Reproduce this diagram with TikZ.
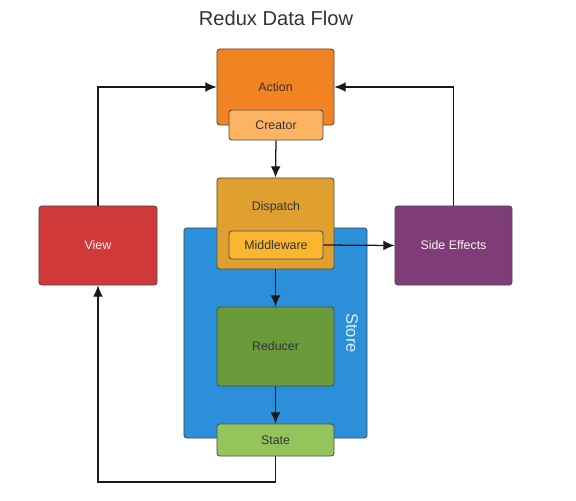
\documentclass[tikz,border=0pt]{standalone}
\usepackage{fontspec}
\setmainfont{Liberation Sans}
\usepackage{xcolor}
\usetikzlibrary{arrows.meta,positioning,calc}

\definecolor{actionorange}{HTML}{F28322}
\definecolor{creatororange}{HTML}{FDB462}
\definecolor{dispatchgold}{HTML}{DFA030}
\definecolor{middlegold}{HTML}{FBB630}
\definecolor{storeblue}{HTML}{2B90D9}
\definecolor{reducergreen}{HTML}{6A9B3B}
\definecolor{stategreen}{HTML}{93C55C}
\definecolor{viewred}{HTML}{D0393A}
\definecolor{sidepurple}{HTML}{7E3D76}

\begin{document}
\begin{tikzpicture}[x=0.025cm, y=-0.025cm, every node/.style={align=center}]
\tikzset{
  box/.style={draw=black!70, rounded corners=2pt, line width=0.6pt, text=black!80,
    minimum width=2.925cm, font=\fontsize{8.8}{10}\selectfont},
  subbox/.style={box, minimum width=2.35cm},
  lightbox/.style={box, text=white!80!pink},
  flow/.style={draw=black!90, line width=0.9pt, -{Latex[length=8pt,width=7pt]}}
}
\useasboundingbox (0,0) rectangle (576,500);
\node[font=\fontsize{14.3}{16}\selectfont, text=black!80] (title) at (276,18) {Redux Data Flow};
% store behind everything
\node[box, fill=storeblue, minimum width=4.575cm, minimum height=5.25cm] (store) at (275.5,333) {};
\node[text=white!85!storeblue, font=\fontsize{11.8}{13}\selectfont, rotate=-90] (storetxt) at (352,333) {Store};
% action creator
\node[box, fill=actionorange, minimum height=1.9cm] (action) at (275.5,87) {Action};
\node[subbox, fill=creatororange, minimum height=0.75cm] (creator) at (276,125) {Creator};
% dispatch + middleware
\node[box, fill=dispatchgold, minimum height=2.275cm] (dispatch) at (275.5,223.5) {};
\node[font=\fontsize{8.8}{10}\selectfont, text=black!80] (dispatchtxt) at (276,207) {Dispatch};
\node[subbox, fill=middlegold, minimum height=0.7cm] (middleware) at (276,245) {Middleware};
% reducer and state
\node[box, fill=reducergreen, minimum height=1.975cm] (reducer) at (275.5,346.5) {Reducer};
\node[box, fill=stategreen, minimum height=0.8cm] (state) at (275.5,440) {State};
% side boxes
\node[lightbox, fill=viewred, minimum width=2.95cm, minimum height=1.975cm] (view) at (98,245.5) {View};
\node[lightbox, fill=sidepurple, minimum height=1.975cm] (side) at (453.5,245.5) {Side Effects};
\coordinate (loop) at (275.5,482);
% connectors
\draw[flow] (creator.south) -- (dispatch.north);
\draw[flow] (middleware.east) -- (side.west);
\draw[flow] (dispatch.south) -- (reducer.north);
\draw[flow] (reducer.south) -- (state.north);
\draw[flow] (side.north) |- (action.east);
\draw[flow] (view.north) |- (action.west);
\draw[flow] (state.south) -- (loop) -| (view.south);
\end{tikzpicture}
\end{document}
